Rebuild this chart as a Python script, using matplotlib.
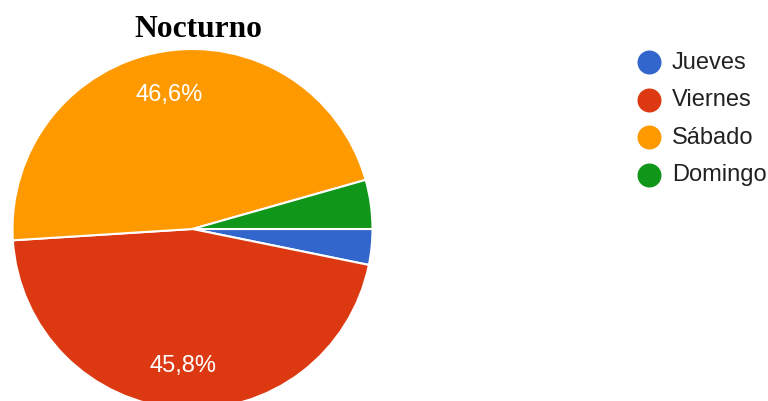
import matplotlib.pyplot as plt

days = ["Jueves", "Viernes", "Sábado", "Domingo"]
shares = [3.2, 45.8, 46.6, 4.4]
colors = ["#3366cc", "#dc3912", "#ff9900", "#109618"]
title = "Nocturno"

W, H = 768, 402
fig = plt.figure(figsize=(W / 100, H / 100), dpi=100)

# pie axes: centre at (192.5, 230) px from top-left, radius 180 px
cx, cy, r = 192.5, 230, 180
ax = fig.add_axes([(cx - r) / W, (H - cy - r) / H, 2 * r / W, 2 * r / H])
ax.set_aspect("equal")
ax.axis("off")


def pct_label(p):
    return f"{p:.1f}%".replace(".", ",") if p >= 5 else ""


wedges, _, autotexts = ax.pie(
    shares, colors=colors, startangle=0, counterclock=False, radius=1,
    autopct=pct_label, pctdistance=0.76,
    wedgeprops=dict(edgecolor="white", linewidth=1.5),
    textprops=dict(color="white", fontsize=17, family="Liberation Sans"),
)
ax.set_xlim(-1, 1)
ax.set_ylim(-1, 1)

fig.text(198 / W, 1 - 37 / H, title, ha="center", va="baseline",
         family="Liberation Serif", fontweight="bold", fontsize=22.7)

# legend drawn in pixel space
lax = fig.add_axes([0, 0, 1, 1])
lax.set_xlim(0, W)
lax.set_ylim(H, 0)
lax.axis("off")
ys = [63, 100.5, 138, 175.5]
for y, label, col in zip(ys, days, colors):
    lax.scatter([649], [y], s=(24 * 0.72) ** 2, color=col, linewidths=0)
    lax.text(672, y, label, va="center", ha="left", fontsize=17,
             family="Liberation Sans", color="#222222")

fig.savefig("out.png", dpi=100)
